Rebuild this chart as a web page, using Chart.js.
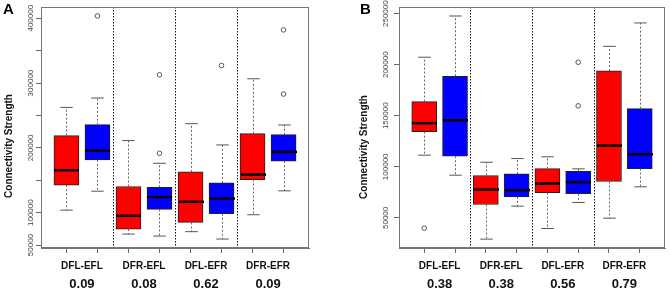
<!DOCTYPE html>
<html>
<head>
<meta charset="utf-8">
<script src="https://cdn.jsdelivr.net/npm/chart.js@4"></script>
<style>
  html, body { margin: 0; padding: 0; background: #fff; }
  #wrap { position: relative; width: 670px; height: 290px; overflow: hidden; }
  .panel { position: absolute; top: 0; height: 290px; }
  #pa { left: 0; width: 330px; }
  #pb { left: 330px; width: 340px; }
</style>
</head>
<body>
<div id="wrap">
  <div class="panel" id="pa"><canvas id="ca" width="330" height="290"></canvas></div>
  <div class="panel" id="pb"><canvas id="cb" width="340" height="290"></canvas></div>
</div>
<script>
// ---------- DATA ----------
const categories = ['DFL-EFL', 'DFR-EFL', 'DFL-EFR', 'DFR-EFR'];
const pValuesA = ['0.09', '0.08', '0.62', '0.09'];
const pValuesB = ['0.38', '0.38', '0.56', '0.79'];

// Panel A (red = first box, blue = second box of each pair)
const aRedLow  = [103900, 67000, 70700, 96800];
const aRedQ1   = [142400, 74700, 85000, 151100];
const aRedMed  = [165500, 95300, 116800, 158800];
const aRedQ3   = [218900, 140400, 163000, 221900];
const aRedHigh = [262400, 211200, 237300, 306600];
const aRedOut  = [[], [], [], []];
const aBlueLow  = [133100, 63900, 59300, 133700];
const aBlueQ1   = [181500, 105000, 98400, 179300];
const aBlueMed  = [195800, 123900, 121900, 193800];
const aBlueQ3   = [235800, 139000, 146000, 220400];
const aBlueHigh = [276900, 176200, 204500, 235300];
const aBlueOut  = [[403500], [312700, 191600], [327100], [382000, 283000]];
const aTicks = [50000, 100000, 150000, 200000, 250000, 300000, 350000, 400000];
const aTickLabels = ['50000', '100000', '', '200000', '', '300000', '', '400000'];

// Panel B
const bRedLow  = [111400, 29200, 39600, 49700];
const bRedQ1   = [134500, 63100, 74800, 85600];
const bRedMed  = [142700, 77800, 83600, 120800];
const bRedQ3   = [163900, 91500, 98300, 193900];
const bRedHigh = [207300, 104500, 109800, 218000];
const bRedOut  = [[39900], [], [], []];
const bBlueLow  = [91800, 61500, 65100, 80400];
const bBlueQ1   = [110400, 70600, 73600, 98300];
const bBlueMed  = [145600, 77100, 85000, 112300];
const bBlueQ3   = [188700, 93100, 95700, 157000];
const bBlueHigh = [247700, 108100, 98000, 240900];
const bBlueOut  = [[], [], [202400, 159700], []];
const bTicks = [50000, 100000, 150000, 200000, 250000];
const bTickLabels = ['50000', '100000', '150000', '200000', '250000'];

const yTitle = 'Connectivity Strength';

// ---------- BUILD ----------
function makeBoxes(low, q1, med, q3, high, out, offset) {
  return categories.map((c, i) => ({
    x: 2 * i + 1 + offset, low: low[i], q1: q1[i], med: med[i], q3: q3[i], high: high[i], out: out[i]
  }));
}

function makePanel(canvasId, cfg) {
  const boxes = cfg.red.concat(cfg.blue);
  const outPts = [];
  boxes.forEach(b => b.out.forEach(v => outPts.push({ x: b.x, y: v })));
  const FONT = '"Liberation Sans", Arial, sans-serif';

  const drawPlugin = {
    id: 'boxExtras',
    beforeDatasetsDraw(chart) {
      const ctx = chart.ctx, xs = chart.scales.x, ca = chart.chartArea;
      ctx.save();
      ctx.strokeStyle = '#111';
      ctx.lineWidth = 1;
      ctx.setLineDash([1.5, 1.5]);
      [2.5, 4.5, 6.5].forEach(v => {
        const px = Math.round(xs.getPixelForValue(v)) + 0.5;
        ctx.beginPath(); ctx.moveTo(px, ca.top); ctx.lineTo(px, ca.bottom); ctx.stroke();
      });
      ctx.restore();
    },
    afterDatasetsDraw(chart) {
      const ctx = chart.ctx, xs = chart.scales.x, ys = chart.scales.y, ca = chart.chartArea;
      const half = cfg.boxW / 2;
      ctx.save();
      boxes.forEach(b => {
        const px = Math.round(xs.getPixelForValue(b.x)) + 0.5;
        const yl = ys.getPixelForValue(b.low), y1 = ys.getPixelForValue(b.q1);
        const ym = ys.getPixelForValue(b.med), y3 = ys.getPixelForValue(b.q3);
        const yh = ys.getPixelForValue(b.high);
        ctx.strokeStyle = '#666';
        ctx.lineWidth = 1;
        ctx.setLineDash([2, 2]);
        ctx.beginPath(); ctx.moveTo(px, y3); ctx.lineTo(px, yh); ctx.stroke();
        ctx.beginPath(); ctx.moveTo(px, y1); ctx.lineTo(px, yl); ctx.stroke();
        ctx.setLineDash([]);
        ctx.strokeStyle = '#555';
        ctx.beginPath(); ctx.moveTo(px - half / 2, yh); ctx.lineTo(px + half / 2, yh); ctx.stroke();
        ctx.beginPath(); ctx.moveTo(px - half / 2, yl); ctx.lineTo(px + half / 2, yl); ctx.stroke();
        ctx.strokeStyle = '#000';
        ctx.lineWidth = 2.5;
        ctx.beginPath(); ctx.moveTo(px - half, ym); ctx.lineTo(px + half, ym); ctx.stroke();
      });
      ctx.strokeStyle = '#777';
      ctx.lineWidth = 1;
      ctx.strokeRect(Math.round(ca.left) + 0.5, Math.round(ca.top) + 0.5,
                     Math.round(ca.right - ca.left) - 1, Math.round(ca.bottom - ca.top) - 1);
      ctx.restore();
    },
    afterDraw(chart) {
      const ctx = chart.ctx, xs = chart.scales.x, ys = chart.scales.y;
      ctx.save();
      ctx.fillStyle = '#444';
      ctx.font = '8px ' + FONT;
      ctx.textAlign = 'center';
      ctx.textBaseline = 'middle';
      cfg.ticks.forEach((v, i) => {
        const lab = cfg.tickLabels[i];
        if (!lab) return;
        const py = ys.getPixelForValue(v);
        ctx.save();
        ctx.translate(cfg.tickLabelX, py);
        ctx.rotate(-Math.PI / 2);
        ctx.fillText(lab, 0, 0);
        ctx.restore();
      });
      ctx.fillStyle = '#111';
      ctx.font = 'bold 10px ' + FONT;
      ctx.save();
      ctx.translate(cfg.titleX, cfg.titleY);
      ctx.rotate(-Math.PI / 2);
      ctx.fillText(yTitle, 0, 0);
      ctx.restore();
      ctx.font = 'bold 15px ' + FONT;
      ctx.textAlign = 'left';
      ctx.textBaseline = 'alphabetic';
      ctx.fillStyle = '#000';
      ctx.fillText(cfg.letter, cfg.letterX, 14);
      ctx.textAlign = 'center';
      ctx.textBaseline = 'middle';
      categories.forEach((c, i) => {
        const px = xs.getPixelForValue(2 * i + 1.5);
        ctx.fillStyle = '#111';
        ctx.font = 'bold 10px ' + FONT;
        ctx.fillText(c, px, 266);
        ctx.font = 'bold 13px ' + FONT;
        ctx.fillText(cfg.pvals[i], px, 284);
      });
      ctx.restore();
    }
  };

  return new Chart(document.getElementById(canvasId), {
    type: 'bar',
    data: {
      datasets: [
        {
          label: 'red',
          data: cfg.red.map(b => ({ x: b.x, y: [b.q1, b.q3] })),
          backgroundColor: '#FF0000', borderColor: '#222', borderWidth: 1,
          borderSkipped: false, barThickness: cfg.boxW, grouped: false, order: 2
        },
        {
          label: 'blue',
          data: cfg.blue.map(b => ({ x: b.x, y: [b.q1, b.q3] })),
          backgroundColor: '#0000FF', borderColor: '#222', borderWidth: 1,
          borderSkipped: false, barThickness: cfg.boxW, grouped: false, order: 2
        },
        {
          type: 'scatter',
          label: 'outliers',
          data: outPts,
          pointStyle: 'circle', pointRadius: 2.3, pointBorderWidth: 1,
          pointBorderColor: '#555', pointBackgroundColor: 'rgba(0,0,0,0)', order: 1
        }
      ]
    },
    options: {
      responsive: false,
      animation: false,
      events: [],
      layout: { padding: { top: cfg.padTop, right: cfg.padRight, left: 0, bottom: 0 } },
      plugins: { legend: { display: false }, tooltip: { enabled: false } },
      scales: {
        x: {
          type: 'linear', min: 0.18, max: 8.82, offset: false,
          afterBuildTicks: s => { s.ticks = [1, 2, 3, 4, 5, 6, 7, 8].map(v => ({ value: v })); },
          afterFit: s => { s.height = cfg.xAxisH; },
          ticks: { display: false },
          grid: { drawOnChartArea: false, drawTicks: true, tickLength: 5, color: '#666', offset: false },
          border: { display: true, color: '#777', width: 1 }
        },
        y: {
          type: 'linear', min: cfg.yMin, max: cfg.yMax, beginAtZero: false,
          afterBuildTicks: s => { s.ticks = cfg.ticks.map(v => ({ value: v })); },
          afterFit: s => { s.width = cfg.yAxisW; },
          ticks: { display: false },
          grid: { drawOnChartArea: false, drawTicks: true, tickLength: 5, color: '#666' },
          border: { display: true, color: '#777', width: 1 }
        }
      }
    },
    plugins: [drawPlugin]
  });
}

makePanel('ca', {
  red: makeBoxes(aRedLow, aRedQ1, aRedMed, aRedQ3, aRedHigh, aRedOut, 0),
  blue: makeBoxes(aBlueLow, aBlueQ1, aBlueMed, aBlueQ3, aBlueHigh, aBlueOut, 1),
  ticks: aTicks, tickLabels: aTickLabels, pvals: pValuesA,
  yMin: 45500, yMax: 417300,
  yAxisW: 41, xAxisH: 42, padTop: 7, padRight: 21, boxW: 25,
  tickLabelX: 31, titleX: 9, titleY: 146, letter: 'A', letterX: 3
});

makePanel('cb', {
  red: makeBoxes(bRedLow, bRedQ1, bRedMed, bRedQ3, bRedHigh, bRedOut, 0),
  blue: makeBoxes(bBlueLow, bBlueQ1, bBlueMed, bBlueQ3, bBlueHigh, bBlueOut, 1),
  ticks: bTicks, tickLabels: bTickLabels, pvals: pValuesB,
  yMin: 20500, yMax: 256500,
  yAxisW: 69, xAxisH: 42, padTop: 7, padRight: 3, boxW: 25,
  tickLabelX: 56, titleX: 34, titleY: 147, letter: 'B', letterX: 30
});
</script>
</body>
</html>
